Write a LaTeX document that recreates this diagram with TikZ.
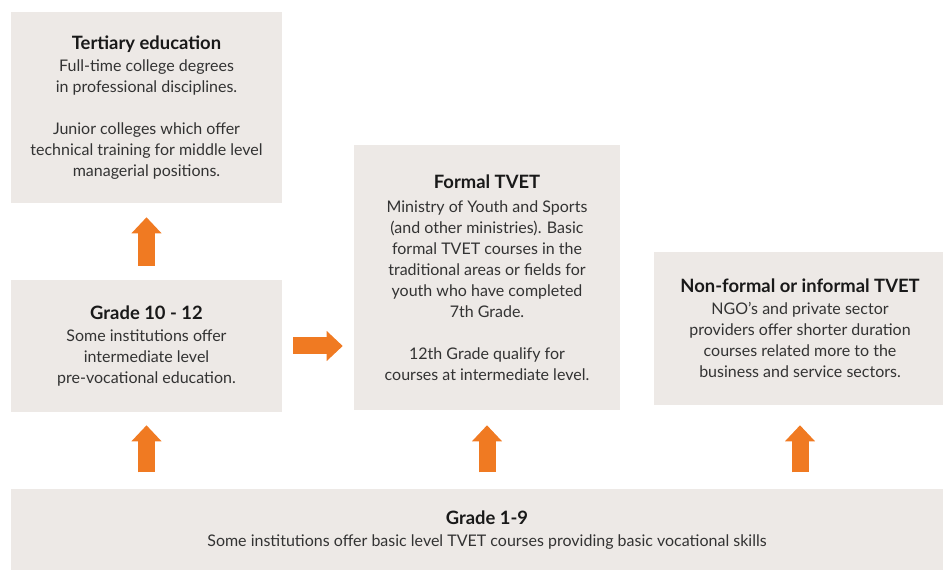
\documentclass[tikz,border=0pt]{standalone}
\usepackage{fontspec}
\setmainfont{Lato}
\usetikzlibrary{positioning,arrows.meta}
\definecolor{boxgray}{HTML}{EDE9E6}
\definecolor{tvetorange}{HTML}{F07A22}
\definecolor{bodytext}{HTML}{333333}
\newcommand{\boxtitle}[1]{{\fontsize{13.8}{15}\selectfont\bfseries\color{black!90}#1}}
\tikzset{
  infobox/.style={fill=boxgray, inner sep=0pt, align=center, text=bodytext, font=\fontsize{12}{15.75}\selectfont},
  blockarrow/.style={-{Triangle[width=21.75pt,length=12pt]}, line width=12.75pt, draw=tvetorange},
}

\begin{document}
\begin{tikzpicture}[x=0.75pt, y=-0.75pt]
  \useasboundingbox (0,0) rectangle (943,570);
  \clip (0,0) rectangle (943,570);
  \node[infobox, minimum width=203.25pt, minimum height=143.25pt] (tert) at (146.5,107.5)
    {\boxtitle{Tertiary education}\\[1pt]
     Full-time college degrees\\ in professional disciplines.\\[15.75pt]
     Junior colleges which offer\\ technical training for middle level\\ managerial positions.};
  \node[infobox, minimum width=203.25pt, minimum height=99pt] (g10) at (146.5,346)
    {\boxtitle{Grade 10 - 12}\\[1pt]
     Some institutions offer\\ intermediate level\\ pre-vocational education.};
  \node[infobox, minimum width=199.5pt, minimum height=198.75pt] (formal) at (487,277.5)
    {\boxtitle{Formal TVET}\\[2pt]
     Ministry of Youth and Sports\\ (and other ministries). Basic\\ formal TVET courses in the\\
     traditional areas or fields for\\ youth who have completed\\ 7th Grade.\\[15.75pt]
     12th Grade qualify for\\ courses at intermediate level.};
  \node[infobox, minimum width=219pt, minimum height=114.75pt] (nonf) at (800,328.5)
    {\boxtitle{Non-formal or informal TVET}\\[1pt]
     NGO's and private sector\\ providers offer shorter duration\\
     courses related more to the\\ business and service sectors.};
  \node[infobox, minimum width=714pt, minimum height=62pt] (g9) at (487,530)
    {\boxtitle{Grade 1-9}\\[1pt]
     Some institutions offer basic level TVET courses providing basic vocational skills};
  \draw[blockarrow, shorten <=10.5pt, shorten >=10.5pt] (g10.north) -- (tert.south);
  \draw[blockarrow, shorten <=8.25pt, shorten >=8.25pt] (g10.east) -- (g10.east -| formal.west);
  \draw[blockarrow, shorten <=12pt, shorten >=9.75pt] (g9.north -| g10.south) -- (g10.south);
  \draw[blockarrow, shorten <=12pt, shorten >=11.25pt] (g9.north -| formal.south) -- (formal.south);
  \draw[blockarrow, shorten <=12pt, shorten >=15pt] (g9.north -| nonf.south) -- (nonf.south);
\end{tikzpicture}
\end{document}
